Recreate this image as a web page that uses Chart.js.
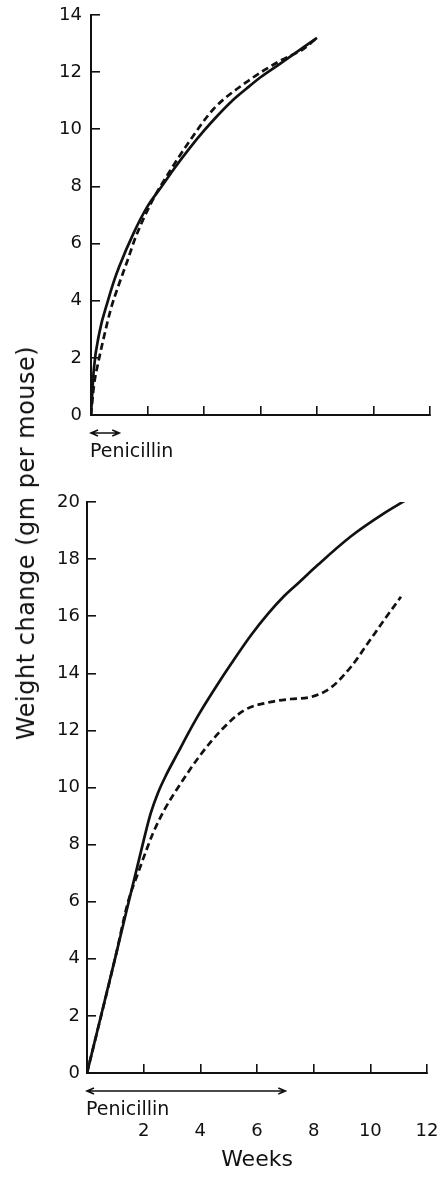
<!DOCTYPE html>
<html><head><meta charset="utf-8">
<script src="https://cdn.jsdelivr.net/npm/chart.js@4.4.1/dist/chart.umd.min.js"></script>
<style>
html,body{margin:0;padding:0;background:#fff;}
#wrap{position:relative;width:440px;height:1178px;overflow:hidden;background:#fff;}
canvas{position:absolute;left:0;top:0;}
#ytitle{position:absolute;left:26px;top:543px;transform:translate(-50%,-50%) rotate(-90deg);font-family:'DejaVu Sans';font-size:24px;white-space:nowrap;color:#111;letter-spacing:0.5px;}
</style></head><body>
<div id="wrap">
<canvas id="c1" width="440" height="1178"></canvas>
<canvas id="c2" width="440" height="1178"></canvas>
<div id="ytitle">Weight change (gm per mouse)</div>
</div>
<script>
// ---- data ----
const weekTicks = [0, 2, 4, 6, 8, 10, 12];
const topGainTicks = [0, 2, 4, 6, 8, 10, 12, 14];
const bottomGainTicks = [0, 2, 4, 6, 8, 10, 12, 14, 16, 18, 20];

const topSolidWeeks = [0, 0.1, 0.3, 0.6, 0.8, 1.0, 1.5, 2.0, 2.5, 3.0, 3.5, 4.0, 4.5, 5.0, 5.5, 6.0, 6.7, 8.0];
const topSolidGain  = [0, 1.6, 2.9, 4.0, 4.65, 5.2, 6.35, 7.3, 8.0, 8.7, 9.35, 9.95, 10.5, 11.0, 11.42, 11.82, 12.3, 13.2];
const topDashedWeeks = [0, 0.1, 0.27, 0.45, 0.7, 0.98, 1.29, 1.57, 2.17, 2.8, 3.5, 4.33, 5.5, 6.7, 7.5, 8.0];
const topDashedGain  = [0, 1.0, 1.9, 2.7, 3.7, 4.55, 5.4, 6.2, 7.5, 8.55, 9.6, 10.7, 11.65, 12.4, 12.8, 13.2];

const bottomSolidWeeks = [0, 1.0, 2.0, 2.25, 2.5, 2.8, 3.2, 3.6, 4.0, 4.6, 5.1, 5.8, 6.4, 6.95, 7.5, 8.15, 9.32, 10.48, 11.26];
const bottomSolidGain  = [0, 4.05, 8.15, 9.1, 9.8, 10.45, 11.2, 11.95, 12.65, 13.6, 14.35, 15.35, 16.1, 16.7, 17.2, 17.8, 18.8, 19.6, 20.07];
const bottomDashedWeeks = [0, 1.0, 1.45, 1.8, 2.15, 2.33, 2.72, 3.32, 3.95, 4.73, 5.54, 6.5, 7.2, 7.9, 8.61, 9.32, 9.91, 10.49, 11.08];
const bottomDashedGain  = [0, 4.05, 6.0, 7.0, 7.95, 8.4, 9.2, 10.16, 11.07, 12.0, 12.7, 13.0, 13.1, 13.17, 13.5, 14.23, 15.05, 15.87, 16.68];

const topPenicillin = [0, 1];
const bottomPenicillin = [0, 7];
const penicillinLabel = 'Penicillin';
const xTitle = 'Weeks';

// ---- helpers ----
Chart.defaults.font.family = "'DejaVu Sans', sans-serif";
Chart.defaults.color = '#111';
const INK = '#111';

function pts(xs, ys) { return xs.map((x, i) => ({ x: x, y: ys[i] })); }

function penicillinPlugin(period) {
  return {
    id: 'penicillin',
    afterDraw(chart) {
      const ctx = chart.ctx;
      const xs = chart.scales.x;
      const x0 = xs.getPixelForValue(period[0]);
      const x1 = xs.getPixelForValue(period[1]);
      const y = chart.chartArea.bottom + 18;
      ctx.save();
      ctx.strokeStyle = INK;
      ctx.lineWidth = 1.6;
      ctx.beginPath();
      ctx.moveTo(x0, y); ctx.lineTo(x1, y);
      ctx.moveTo(x0 + 7, y - 3); ctx.lineTo(x0, y); ctx.lineTo(x0 + 7, y + 3);
      ctx.moveTo(x1 - 7, y - 3); ctx.lineTo(x1, y); ctx.lineTo(x1 - 7, y + 3);
      ctx.stroke();
      ctx.fillStyle = INK;
      ctx.font = "19px 'DejaVu Sans'";
      ctx.textAlign = 'left';
      ctx.textBaseline = 'alphabetic';
      ctx.fillText(penicillinLabel, x0 - 1, chart.chartArea.bottom + 42);
      ctx.restore();
    }
  };
}

function zeroPad(s) { s.paddingLeft = 0; s.paddingRight = 0; s.paddingTop = 0; s.paddingBottom = 0; }

function buildChart(id, o) {
  return new Chart(document.getElementById(id), {
    type: 'line',
    data: {
      datasets: [
        { data: pts(o.solidX, o.solidY), borderColor: INK, borderWidth: 2.7, pointRadius: 0, fill: false, cubicInterpolationMode: 'monotone' },
        { data: pts(o.dashX, o.dashY), borderColor: INK, borderWidth: 2.7, pointRadius: 0, fill: false, borderDash: [7, 4], cubicInterpolationMode: 'monotone' }
      ]
    },
    options: {
      responsive: false,
      animation: false,
      events: [],
      layout: { padding: o.padding, autoPadding: false },
      plugins: { legend: { display: false }, tooltip: { enabled: false } },
      scales: {
        x: {
          type: 'linear', min: 0, max: 12,
          afterBuildTicks: s => { s.ticks = weekTicks.map(v => ({ value: v })); },
          afterFit: s => { s.height = o.xHeight; zeroPad(s); },
          border: { display: true, color: INK, width: 2 },
          grid: { drawOnChartArea: false, drawTicks: true, tickLength: -9, color: INK, lineWidth: 1.6 },
          ticks: {
            padding: 57, font: { size: 18 }, color: INK, maxRotation: 0,
            callback: v => (o.showX && v !== 0) ? String(v) : ''
          },
          title: o.showX ? { display: true, text: xTitle, font: { size: 22 }, color: INK, padding: { top: 0, bottom: 5 } } : { display: false }
        },
        y: {
          type: 'linear', min: 0, max: o.yMax,
          afterBuildTicks: s => { s.ticks = o.yTicks.map(v => ({ value: v })); },
          afterFit: s => { s.width = o.yWidth; zeroPad(s); },
          border: { display: true, color: INK, width: 2 },
          grid: { drawOnChartArea: false, drawTicks: true, tickLength: -9, color: INK, lineWidth: 1.6 },
          ticks: { padding: o.yPad, font: { size: 18 }, color: INK, callback: v => String(v) }
        }
      }
    },
    plugins: [penicillinPlugin(o.penicillin)]
  });
}

buildChart('c1', {
  solidX: topSolidWeeks, solidY: topSolidGain, dashX: topDashedWeeks, dashY: topDashedGain,
  yMax: 14, yTicks: topGainTicks, yWidth: 91, yPad: 18, xHeight: 30, showX: false,
  padding: { left: 0, right: 10, top: 15, bottom: 1178 - 415 - 30 },
  penicillin: topPenicillin
});

buildChart('c2', {
  solidX: bottomSolidWeeks, solidY: bottomSolidGain, dashX: bottomDashedWeeks, dashY: bottomDashedGain,
  yMax: 20, yTicks: bottomGainTicks, yWidth: 87, yPad: 16, xHeight: 105, showX: true,
  padding: { left: 0, right: 13, top: 502, bottom: 0 },
  penicillin: bottomPenicillin
});
</script>
</body></html>
